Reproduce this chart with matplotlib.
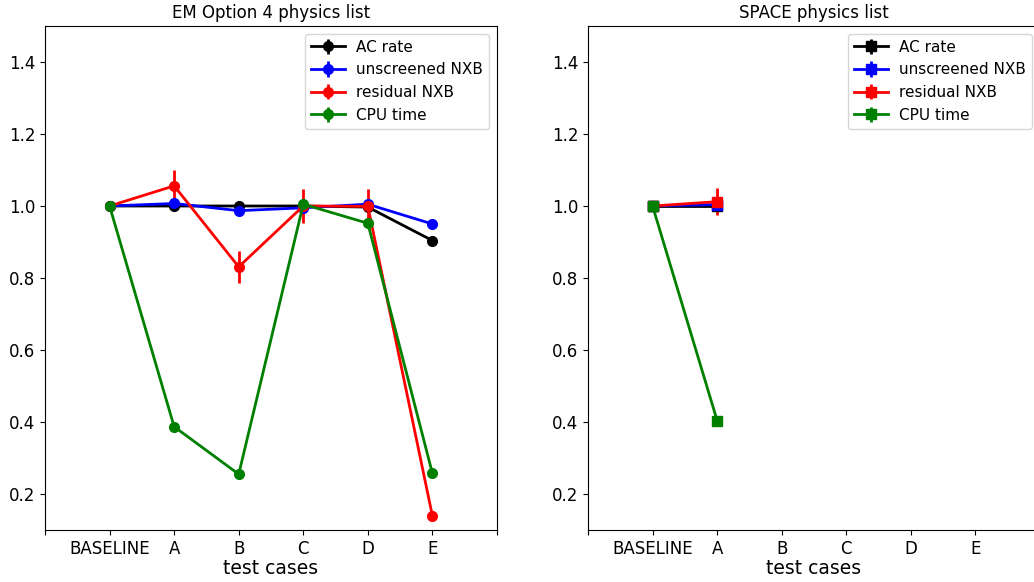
import matplotlib
matplotlib.use("Agg")
import matplotlib.pyplot as plt
import numpy as np

cases = ["BASELINE", "A", "B", "C", "D", "E"]
tick_labels = [""] + cases + [""]

# EM Option 4 physics list
em4_ac = [1.0, 1.0, 1.0, 1.0, 0.997, 0.904]
em4_ac_err = [0.003, 0.003, 0.003, 0.003, 0.003, 0.003]
em4_unscr = [1.0, 1.007, 0.987, 0.995, 1.005, 0.95]
em4_unscr_err = [0.005, 0.005, 0.005, 0.005, 0.005, 0.005]
em4_resid = [1.0, 1.056, 0.831, 1.0, 0.999, 0.139]
em4_resid_err = [0.0, 0.044, 0.045, 0.048, 0.047, 0.01]
em4_cpu = [1.0, 0.387, 0.255, 1.005, 0.952, 0.257]
em4_cpu_err = [0.0, 0.0, 0.0, 0.0, 0.0, 0.0]

# SPACE physics list (only BASELINE and A available)
space_ac = [1.0, 1.0]
space_ac_err = [0.003, 0.003]
space_unscr = [1.0, 1.004]
space_unscr_err = [0.005, 0.005]
space_resid = [1.0, 1.012]
space_resid_err = [0.0, 0.037]
space_cpu = [1.0, 0.404]
space_cpu_err = [0.0, 0.0]

fig = plt.figure(figsize=(10.34, 5.82), dpi=100)
ax1 = fig.add_axes([45 / 1034, 1 - 530 / 582, 452 / 1034, 504 / 582])
ax2 = fig.add_axes([588 / 1034, 1 - 530 / 582, 452 / 1034, 504 / 582])


def draw(ax, series, marker, title):
    labels = ["AC rate", "unscreened NXB", "residual NXB", "CPU time"]
    colors = ["black", "blue", "red", "green"]
    for (vals, errs), lab, col in zip(series, labels, colors):
        x = np.arange(len(vals))
        ax.errorbar(x, vals, yerr=errs, color=col, marker=marker, ms=7,
                    lw=2, elinewidth=2, label=lab)
    ax.set_xlim(-1, 6)
    ax.set_ylim(0.1, 1.5)
    ax.set_xticks(np.arange(-1, 7))
    ax.set_xticklabels(tick_labels, fontsize=12)
    ax.set_yticks([0.2, 0.4, 0.6, 0.8, 1.0, 1.2, 1.4])
    ax.tick_params(axis="y", labelsize=12)
    ax.set_xlabel("test cases", fontsize=13.5, labelpad=1)
    ax.set_title(title, fontsize=12)
    ax.legend(loc="upper right", fontsize=11, handlelength=2.2,
              labelspacing=0.5, handletextpad=0.75)


draw(ax1, [(em4_ac, em4_ac_err), (em4_unscr, em4_unscr_err),
           (em4_resid, em4_resid_err), (em4_cpu, em4_cpu_err)],
     "o", "EM Option 4 physics list")
draw(ax2, [(space_ac, space_ac_err), (space_unscr, space_unscr_err),
           (space_resid, space_resid_err), (space_cpu, space_cpu_err)],
     "s", "SPACE physics list")

fig.savefig("out.png", dpi=100)
